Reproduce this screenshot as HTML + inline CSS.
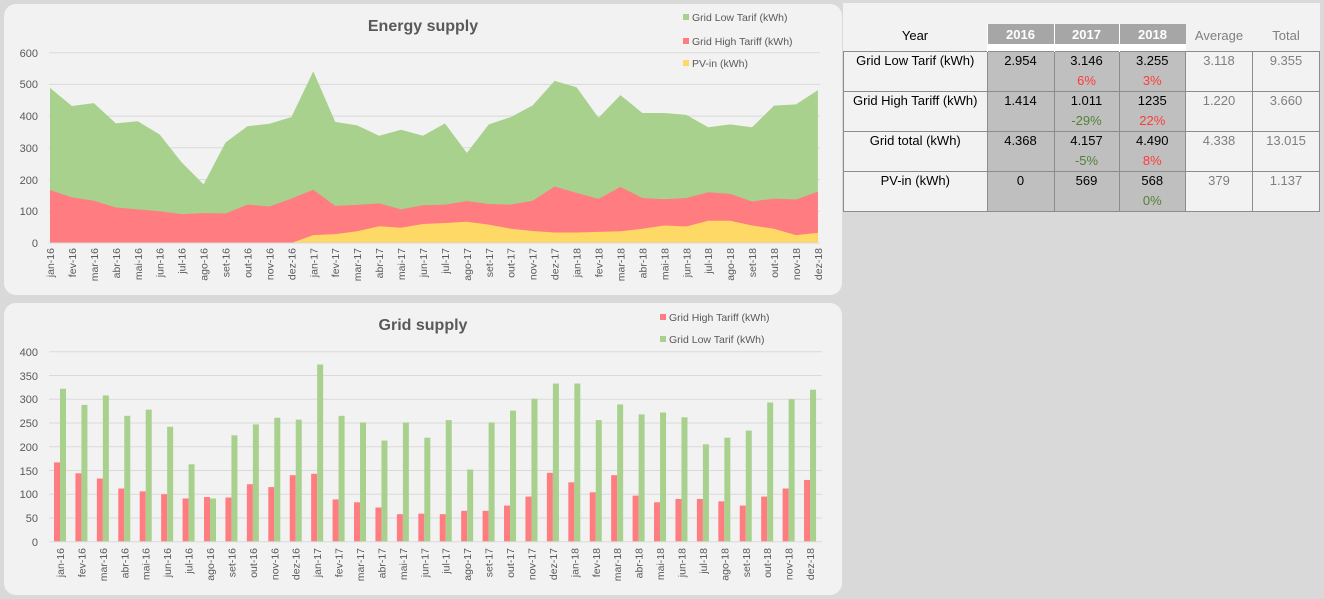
<!DOCTYPE html>
<html><head><meta charset="utf-8"><style>
body{margin:0;background:#d9d9d9;width:1324px;height:599px;overflow:hidden;font-family:"Liberation Sans",sans-serif}
svg{position:absolute;left:0;top:0}
#t{position:absolute;left:843px;top:3px;width:477px;height:208px;background:#f2f2f2}
table{position:absolute;left:0;top:21px;border-collapse:collapse;font-size:13px;text-align:center}
td{padding:0;vertical-align:top;border:1px solid #8c8c8c;height:39px;line-height:20px}
td div{margin-top:-1px}
.h td{border:none;height:27px;vertical-align:top;line-height:24px}
.g{background:#bfbfbf}
.hg{background:linear-gradient(#a6a6a6 0,#a6a6a6 20px,#fff 20px,#fff 27px);color:#fff;font-weight:bold;border-left:1px solid #fff !important;line-height:21px !important}
.m{color:#7f7f7f}.r{color:#ff3b3b}.gr{color:#548235}
</style></head><body>
<svg width="1324" height="599" font-family="Liberation Sans, sans-serif">
<rect x="4" y="4" width="838" height="291" rx="12" fill="#f2f2f2"/>
<rect x="4" y="303" width="838" height="292" rx="12" fill="#f2f2f2"/>
<g stroke="#d9d9d9" stroke-width="1">
<line x1="49" x2="820" y1="211.3" y2="211.3"/><line x1="49" x2="820" y1="179.6" y2="179.6"/><line x1="49" x2="820" y1="147.8" y2="147.8"/><line x1="49" x2="820" y1="116.1" y2="116.1"/><line x1="49" x2="820" y1="84.4" y2="84.4"/><line x1="49" x2="820" y1="52.7" y2="52.7"/>
<line x1="49" x2="822" y1="518" y2="518"/><line x1="49" x2="822" y1="494.2" y2="494.2"/><line x1="49" x2="822" y1="470.5" y2="470.5"/><line x1="49" x2="822" y1="446.7" y2="446.7"/><line x1="49" x2="822" y1="423" y2="423"/><line x1="49" x2="822" y1="399.2" y2="399.2"/><line x1="49" x2="822" y1="375.5" y2="375.5"/><line x1="49" x2="822" y1="351.7" y2="351.7"/>
</g>
<g transform="translate(50,243) scale(21.94,-0.3172)">
<polygon fill="#a9d18e" points="0,0 0,489 1,432 2,441 3,377 4,384 5,342 6,254 7,185 8,317 9,368 10,376 11,397 12,541 13,382 14,371 15,338 16,357 17,338 18,377 19,284 20,374 21,397 22,434 23,511 24,491 25,395 26,466 27,410 28,410 29,404 30,365 31,374 32,365 33,433 34,437 35,482 35,0"/>
<polygon fill="#ff7c80" points="0,0 0,167 1,144 2,133 3,112 4,106 5,100 6,91 7,94 8,93 9,121 10,115 11,140 12,168 13,117 14,120 15,125 16,106 17,119 18,121 19,132 20,123 21,121 22,133 23,178 24,158 25,139 26,177 27,142 28,138 29,142 30,160 31,155 32,131 33,140 34,137 35,162 35,0"/>
<polygon fill="#ffd966" points="11,0 12,25 13,28 14,37 15,53 16,48 17,60 18,63 19,67 20,58 21,45 22,38 23,33 24,33 25,35 26,37 27,45 28,55 29,52 30,70 31,70 32,55 33,45 34,25 35,32 35,0"/>
</g>
<line x1="49" x2="820" y1="243" y2="243" stroke="#d9d9d9"/>
<g transform="translate(54,541.7) scale(21.43,-0.475)">
<g fill="#ff7c80">
<rect x="0" width="0.28" height="167"/><rect x="1" width="0.28" height="144"/><rect x="2" width="0.28" height="133"/><rect x="3" width="0.28" height="112"/><rect x="4" width="0.28" height="106"/><rect x="5" width="0.28" height="100"/><rect x="6" width="0.28" height="91"/><rect x="7" width="0.28" height="94"/><rect x="8" width="0.28" height="93"/><rect x="9" width="0.28" height="121"/><rect x="10" width="0.28" height="115"/><rect x="11" width="0.28" height="140"/><rect x="12" width="0.28" height="143"/><rect x="13" width="0.28" height="89"/><rect x="14" width="0.28" height="83"/><rect x="15" width="0.28" height="72"/><rect x="16" width="0.28" height="58"/><rect x="17" width="0.28" height="59"/><rect x="18" width="0.28" height="58"/><rect x="19" width="0.28" height="65"/><rect x="20" width="0.28" height="65"/><rect x="21" width="0.28" height="76"/><rect x="22" width="0.28" height="95"/><rect x="23" width="0.28" height="145"/><rect x="24" width="0.28" height="125"/><rect x="25" width="0.28" height="104"/><rect x="26" width="0.28" height="140"/><rect x="27" width="0.28" height="97"/><rect x="28" width="0.28" height="83"/><rect x="29" width="0.28" height="90"/><rect x="30" width="0.28" height="90"/><rect x="31" width="0.28" height="85"/><rect x="32" width="0.28" height="76"/><rect x="33" width="0.28" height="95"/><rect x="34" width="0.28" height="112"/><rect x="35" width="0.28" height="130"/>
</g>
<g fill="#a9d18e" transform="translate(0.28,0)">
<rect x="0" width="0.28" height="322"/><rect x="1" width="0.28" height="288"/><rect x="2" width="0.28" height="308"/><rect x="3" width="0.28" height="265"/><rect x="4" width="0.28" height="278"/><rect x="5" width="0.28" height="242"/><rect x="6" width="0.28" height="163"/><rect x="7" width="0.28" height="91"/><rect x="8" width="0.28" height="224"/><rect x="9" width="0.28" height="247"/><rect x="10" width="0.28" height="261"/><rect x="11" width="0.28" height="257"/><rect x="12" width="0.28" height="373"/><rect x="13" width="0.28" height="265"/><rect x="14" width="0.28" height="251"/><rect x="15" width="0.28" height="213"/><rect x="16" width="0.28" height="251"/><rect x="17" width="0.28" height="219"/><rect x="18" width="0.28" height="256"/><rect x="19" width="0.28" height="152"/><rect x="20" width="0.28" height="251"/><rect x="21" width="0.28" height="276"/><rect x="22" width="0.28" height="301"/><rect x="23" width="0.28" height="333"/><rect x="24" width="0.28" height="333"/><rect x="25" width="0.28" height="256"/><rect x="26" width="0.28" height="289"/><rect x="27" width="0.28" height="268"/><rect x="28" width="0.28" height="272"/><rect x="29" width="0.28" height="262"/><rect x="30" width="0.28" height="205"/><rect x="31" width="0.28" height="219"/><rect x="32" width="0.28" height="234"/><rect x="33" width="0.28" height="293"/><rect x="34" width="0.28" height="300"/><rect x="35" width="0.28" height="320"/>
</g></g>
<line x1="49" x2="822" y1="541.7" y2="541.7" stroke="#d9d9d9"/>
<g font-size="11" fill="#595959" text-anchor="end">
<text x="38" y="247">0</text><text x="38" y="215">100</text><text x="38" y="184">200</text><text x="38" y="152">300</text><text x="38" y="120">400</text><text x="38" y="88">500</text><text x="38" y="57">600</text>
<text x="38" y="546">0</text><text x="38" y="522">50</text><text x="38" y="498">100</text><text x="38" y="475">150</text><text x="38" y="451">200</text><text x="38" y="427">250</text><text x="38" y="403">300</text><text x="38" y="380">350</text><text x="38" y="356">400</text>
</g>
<g font-size="10.5" fill="#595959" text-anchor="end">
<text transform="translate(54,248) rotate(-90)">jan-16</text><text transform="translate(75.9,248) rotate(-90)">fev-16</text><text transform="translate(97.9,248) rotate(-90)">mar-16</text><text transform="translate(119.8,248) rotate(-90)">abr-16</text><text transform="translate(141.8,248) rotate(-90)">mai-16</text><text transform="translate(163.7,248) rotate(-90)">jun-16</text><text transform="translate(185.6,248) rotate(-90)">jul-16</text><text transform="translate(207.6,248) rotate(-90)">ago-16</text><text transform="translate(229.5,248) rotate(-90)">set-16</text><text transform="translate(251.5,248) rotate(-90)">out-16</text><text transform="translate(273.4,248) rotate(-90)">nov-16</text><text transform="translate(295.3,248) rotate(-90)">dez-16</text><text transform="translate(317.3,248) rotate(-90)">jan-17</text><text transform="translate(339.2,248) rotate(-90)">fev-17</text><text transform="translate(361.2,248) rotate(-90)">mar-17</text><text transform="translate(383.1,248) rotate(-90)">abr-17</text><text transform="translate(405,248) rotate(-90)">mai-17</text><text transform="translate(427,248) rotate(-90)">jun-17</text><text transform="translate(448.9,248) rotate(-90)">jul-17</text><text transform="translate(470.9,248) rotate(-90)">ago-17</text><text transform="translate(492.8,248) rotate(-90)">set-17</text><text transform="translate(514.7,248) rotate(-90)">out-17</text><text transform="translate(536.7,248) rotate(-90)">nov-17</text><text transform="translate(558.6,248) rotate(-90)">dez-17</text><text transform="translate(580.6,248) rotate(-90)">jan-18</text><text transform="translate(602.5,248) rotate(-90)">fev-18</text><text transform="translate(624.4,248) rotate(-90)">mar-18</text><text transform="translate(646.4,248) rotate(-90)">abr-18</text><text transform="translate(668.3,248) rotate(-90)">mai-18</text><text transform="translate(690.3,248) rotate(-90)">jun-18</text><text transform="translate(712.2,248) rotate(-90)">jul-18</text><text transform="translate(734.1,248) rotate(-90)">ago-18</text><text transform="translate(756.1,248) rotate(-90)">set-18</text><text transform="translate(778,248) rotate(-90)">out-18</text><text transform="translate(800,248) rotate(-90)">nov-18</text><text transform="translate(821.9,248) rotate(-90)">dez-18</text>
<text transform="translate(64,548) rotate(-90)">jan-16</text><text transform="translate(85.4,548) rotate(-90)">fev-16</text><text transform="translate(106.9,548) rotate(-90)">mar-16</text><text transform="translate(128.3,548) rotate(-90)">abr-16</text><text transform="translate(149.7,548) rotate(-90)">mai-16</text><text transform="translate(171.2,548) rotate(-90)">jun-16</text><text transform="translate(192.6,548) rotate(-90)">jul-16</text><text transform="translate(214,548) rotate(-90)">ago-16</text><text transform="translate(235.4,548) rotate(-90)">set-16</text><text transform="translate(256.9,548) rotate(-90)">out-16</text><text transform="translate(278.3,548) rotate(-90)">nov-16</text><text transform="translate(299.7,548) rotate(-90)">dez-16</text><text transform="translate(321.2,548) rotate(-90)">jan-17</text><text transform="translate(342.6,548) rotate(-90)">fev-17</text><text transform="translate(364,548) rotate(-90)">mar-17</text><text transform="translate(385.5,548) rotate(-90)">abr-17</text><text transform="translate(406.9,548) rotate(-90)">mai-17</text><text transform="translate(428.3,548) rotate(-90)">jun-17</text><text transform="translate(449.7,548) rotate(-90)">jul-17</text><text transform="translate(471.2,548) rotate(-90)">ago-17</text><text transform="translate(492.6,548) rotate(-90)">set-17</text><text transform="translate(514,548) rotate(-90)">out-17</text><text transform="translate(535.5,548) rotate(-90)">nov-17</text><text transform="translate(556.9,548) rotate(-90)">dez-17</text><text transform="translate(578.3,548) rotate(-90)">jan-18</text><text transform="translate(599.8,548) rotate(-90)">fev-18</text><text transform="translate(621.2,548) rotate(-90)">mar-18</text><text transform="translate(642.6,548) rotate(-90)">abr-18</text><text transform="translate(664,548) rotate(-90)">mai-18</text><text transform="translate(685.5,548) rotate(-90)">jun-18</text><text transform="translate(706.9,548) rotate(-90)">jul-18</text><text transform="translate(728.3,548) rotate(-90)">ago-18</text><text transform="translate(749.8,548) rotate(-90)">set-18</text><text transform="translate(771.2,548) rotate(-90)">out-18</text><text transform="translate(792.6,548) rotate(-90)">nov-18</text><text transform="translate(814,548) rotate(-90)">dez-18</text>
</g>
<g font-size="16" font-weight="bold" fill="#595959" text-anchor="middle">
<text x="423" y="31">Energy supply</text><text x="423" y="330">Grid supply</text>
</g>
<g font-size="10.5" fill="#595959">
<rect x="683" y="14" width="6" height="6" fill="#a9d18e"/><text x="692" y="21">Grid Low Tarif (kWh)</text>
<rect x="683" y="38" width="6" height="6" fill="#ff7c80"/><text x="692" y="45">Grid High Tariff (kWh)</text>
<rect x="683" y="60" width="6" height="6" fill="#ffd966"/><text x="692" y="67">PV-in (kWh)</text>
<rect x="660" y="314" width="6" height="6" fill="#ff7c80"/><text x="669" y="321">Grid High Tariff (kWh)</text>
<rect x="660" y="336" width="6" height="6" fill="#a9d18e"/><text x="669" y="343">Grid Low Tarif (kWh)</text>
</g>
</svg>
<div id="t"><table>
<tr class="h"><td style="width:143px">Year</td><td class="hg" style="width:66px">2016</td><td class="hg" style="width:64px">2017</td><td class="hg" style="width:66px">2018</td><td class="m" style="width:67px">Average</td><td class="m" style="width:67px">Total</td></tr>
<tr><td><div>Grid Low Tarif (kWh)</div></td><td class="g"><div>2.954</div></td><td class="g"><div>3.146<br><span class="r">6%</span></div></td><td class="g"><div>3.255<br><span class="r">3%</span></div></td><td class="m"><div>3.118</div></td><td class="m"><div>9.355</div></td></tr>
<tr><td><div>Grid High Tariff (kWh)</div></td><td class="g"><div>1.414</div></td><td class="g"><div>1.011<br><span class="gr">-29%</span></div></td><td class="g"><div>1235<br><span class="r">22%</span></div></td><td class="m"><div>1.220</div></td><td class="m"><div>3.660</div></td></tr>
<tr><td><div>Grid total (kWh)</div></td><td class="g"><div>4.368</div></td><td class="g"><div>4.157<br><span class="gr">-5%</span></div></td><td class="g"><div>4.490<br><span class="r">8%</span></div></td><td class="m"><div>4.338</div></td><td class="m"><div>13.015</div></td></tr>
<tr><td><div>PV-in (kWh)</div></td><td class="g"><div>0</div></td><td class="g"><div>569</div></td><td class="g"><div>568<br><span class="gr">0%</span></div></td><td class="m"><div>379</div></td><td class="m"><div>1.137</div></td></tr>
</table></div>
</body></html>
